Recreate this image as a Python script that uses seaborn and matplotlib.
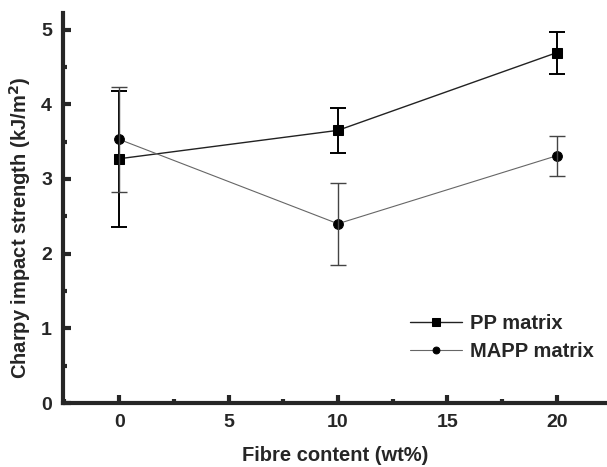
import matplotlib
matplotlib.use("Agg")
import matplotlib.pyplot as plt
import seaborn as sns
import pandas as pd
from matplotlib.ticker import MultipleLocator

# 데이터
fibre = [0, 10, 20]
pp_mean = [3.27, 3.65, 4.69]
pp_err = [0.91, 0.30, 0.28]
mapp_mean = [3.53, 2.40, 3.31]
mapp_err = [0.70, 0.55, 0.27]

df = pd.DataFrame({
    "fibre": fibre * 2,
    "strength": pp_mean + mapp_mean,
    "matrix": ["PP matrix"] * 3 + ["MAPP matrix"] * 3,
})

sns.set_style("ticks")
plt.rcParams["font.family"] = ["Liberation Sans", "DejaVu Sans"]
plt.rcParams["font.weight"] = "bold"

fig = plt.figure(figsize=(6.07, 4.67), dpi=100)
ax = fig.add_axes([0.104, 0.137, 0.896, 0.835])

sns.lineplot(data=df[df.matrix == "PP matrix"], x="fibre", y="strength",
             color="#222222", lw=1.0, marker="s", markersize=7.5, mfc="black", mec="black",
             label="PP matrix", ax=ax)
sns.lineplot(data=df[df.matrix == "MAPP matrix"], x="fibre", y="strength",
             color="#666666", lw=0.8, marker="o", markersize=7, mfc="black", mec="black",
             label="MAPP matrix", ax=ax)

ax.errorbar(fibre, pp_mean, yerr=pp_err, fmt="none", ecolor="black",
            elinewidth=1.4, capsize=5.5, capthick=1.4)
ax.errorbar(fibre, mapp_mean, yerr=mapp_err, fmt="none", ecolor="#444444",
            elinewidth=1.0, capsize=5.5, capthick=1.0)

ax.set_xlim(-2.56, 22.3)
ax.set_ylim(0, 5.22)
ax.xaxis.set_major_locator(MultipleLocator(5))
ax.xaxis.set_minor_locator(MultipleLocator(2.5))
ax.yaxis.set_major_locator(MultipleLocator(1))
ax.yaxis.set_minor_locator(MultipleLocator(0.5))
ax.tick_params(which="major", direction="in", length=6, width=3, labelsize=14, pad=8)
ax.tick_params(which="minor", direction="in", length=3, width=3)

for s in ["left", "bottom"]:
    ax.spines[s].set_linewidth(3)
for s in ["top", "right"]:
    ax.spines[s].set_visible(False)

ax.set_xlabel("Fibre content (wt%)", fontsize=14.5, fontweight="bold", labelpad=11)
ax.set_ylabel("Charpy impact strength (kJ/m$^\\mathbf{2}$)", fontsize=14.5, fontweight="bold")
ax.yaxis.set_label_coords(-0.056, 0.45)

leg = ax.legend(loc="center left", bbox_to_anchor=(0.638, 0.168), frameon=False,
                fontsize=14.5, handlelength=2.6, handletextpad=0.35, labelspacing=0.45,
                borderpad=0, borderaxespad=0, markerscale=0.7)
for t in leg.get_texts():
    t.set_fontweight("bold")

fig.savefig("out.png", dpi=100)
